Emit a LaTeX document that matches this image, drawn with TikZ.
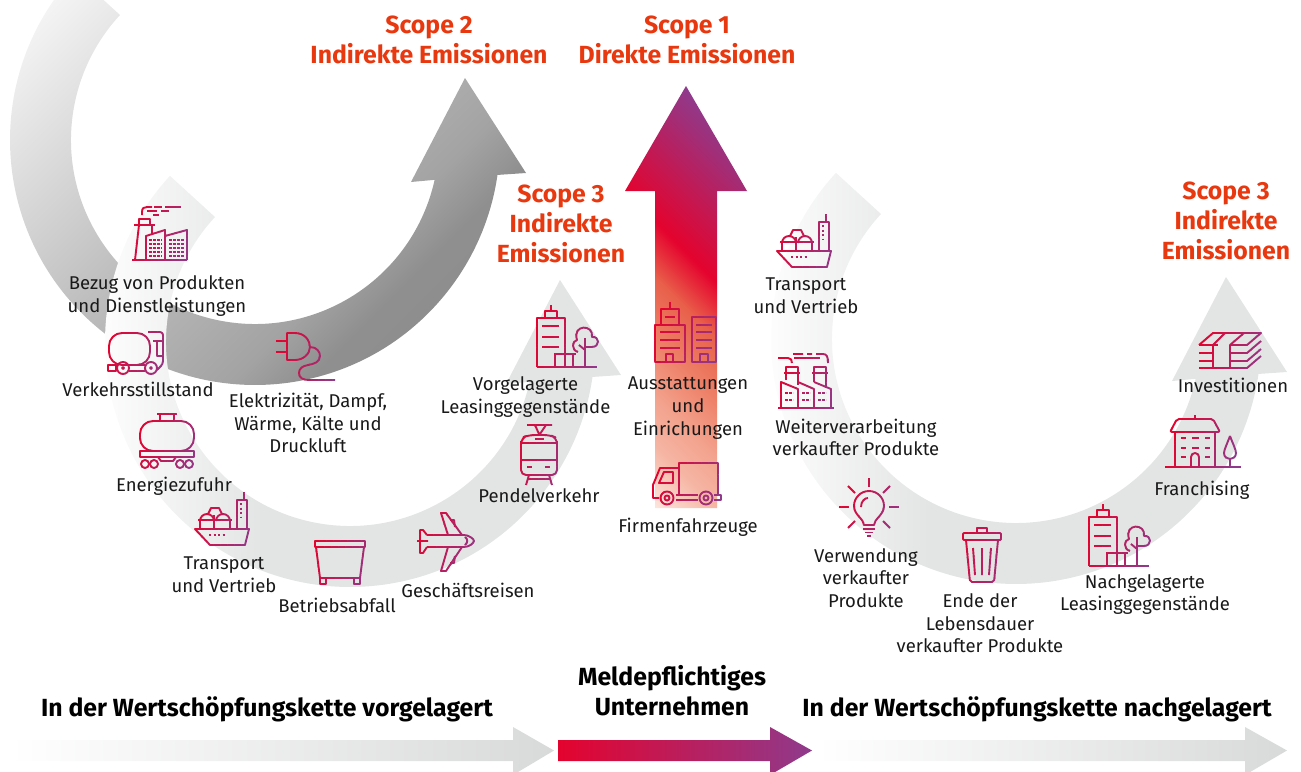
\documentclass[tikz,border=0pt]{standalone}
\usepackage{fontspec}
\setmainfont{Fira Sans}

\definecolor{scopered}{HTML}{E8380F}
\definecolor{iconred}{HTML}{E4032E}
\definecolor{iconpurple}{HTML}{8F3A8C}
\definecolor{ringgray}{HTML}{E3E4E4}
\definecolor{bargray}{HTML}{D8D9D9}
\definecolor{salmona}{HTML}{E8604A}
\definecolor{salmonb}{HTML}{EE8068}
\definecolor{salmonc}{HTML}{F3A48F}
\definecolor{salmond}{HTML}{FDE5DD}

\pgfdeclareverticalshading{darkring}{100bp}{color(0bp)=(white); color(26bp)=(white); color(31bp)=(black!6); color(47bp)=(black!26); color(58bp)=(black!36); color(62bp)=(black!44); color(100bp)=(black!47)}
\pgfdeclareverticalshading{scopeone}{100bp}{color(0bp)=(salmond); color(33bp)=(salmond); color(37.5bp)=(salmonc!75!salmond); color(40.7bp)=(salmonc); color(45bp)=(salmonb); color(49.4bp)=(salmona); color(53.4bp)=(iconred); color(65bp)=(iconpurple); color(100bp)=(iconpurple)}
\pgfdeclarehorizontalshading{lightring}{100bp}{color(0bp)=(white); color(26bp)=(white); color(42bp)=(ringgray); color(100bp)=(ringgray)}

\tikzset{
    iconline/.style={draw=iconpen,line width=1.9pt,line join=round},
    icondots/.style={draw=iconpen,line width=1.9pt,dash pattern=on 2pt off 2.5pt},
    iconpanes/.style={draw=iconpen,line width=2.8pt,dash pattern=on 2.8pt off 1.2pt},
    ringpath/.style={insert path={
        (222.7:245) arc[start angle=222.7,end angle=8.2,radius=245]
        -- (271,33) -- (210,-62) -- (156,42) -- (12.5:184)
        arc[start angle=12.5,end angle=222.8,radius=184] -- cycle}},
    lightbar/.style={left color=white,middle color=bargray,right color=bargray},
    label/.style={align=center,inner sep=0pt,text=black!90,font=\fontsize{18.5}{22.6}\selectfont},
    scopetitle/.style={align=center,inner sep=0pt,text=scopered,font=\fontsize{24.8}{30}\selectfont\bfseries},
    chaintitle/.style={align=center,inner sep=0pt,text=black,font=\fontsize{24.8}{30}\selectfont\bfseries}
}

% an icon is drawn once per slanted slice, each slice in its own colour
\newcommand{\placeicon}[3]{%
\begin{scope}[shift={(#2,#3)}]
\foreach \slice in {-49,-42,...,49} {
\pgfmathtruncatemacro{\mix}{min(100,max(0,(\slice+35)/70*100))}
\colorlet{iconpen}{iconpurple!\mix!iconred}
\begin{scope}
\clip (\slice-14,42) -- (\slice+14,-42) -- (\slice+21.4,-42) -- (\slice-6.6,42) -- cycle;
#1
\end{scope}}
\end{scope}}

\newcommand{\iconfactory}{
\draw[iconline] (-28,27) -- (27,27);
\draw[iconline] (-25,27) -- (-21,-8) (-8,-8) -- (-8,1);
\draw[iconline] (-26,-8) -- (-5,-8) (-21,-8) -- (-21,-14) -- (-10,-14) -- (-10,-8);
\draw[iconline] (-14,27) -- (-14,3) -- (5,-3) -- (5,27) (5,3) -- (27,-3) -- (27,27);
\foreach \y in {7,11,15,19,23} {\draw[iconpanes] (-11,\y) -- (2,\y) (9,\y) -- (24,\y);}
\draw[iconline] (-18,-18) -- (-18,-21) .. controls (-18,-25) and (-16,-26) .. (-13,-26) -- (-8,-26);
\draw[iconline] (-6,-26) -- (2,-26) (5,-26) -- (21,-26) (-13,-22) -- (-3,-22) (1,-22) -- (9,-22) (-7,-18) -- (-1,-18);
}
\newcommand{\icontruck}{
\draw[iconline,rounded corners=13pt] (-27,-20) rectangle (14,12);
\draw[iconline,rounded corners=3pt] (12,-21) -- (27,-21) -- (27,11) -- (21,17);
\draw[iconline] (17,-12) -- (27,-12) (21,-12) -- (21,3) -- (27,3);
\draw[iconline] (-28,12) rectangle (-20,18) (-7,12) -- (9,12) (-7,18) -- (9,18);
\draw[iconline] (-13,15) circle (6) (15,15) circle (6);
\draw[iconline] (-13,15) circle (1) (15,15) circle (1);
}
\newcommand{\iconplug}{
\draw[iconline] (-29,-15) -- (-18,-15) (-29,-4) -- (-18,-4);
\draw[iconline] (-18,-23) -- (-10,-23) .. controls (0,-23) and (5,-15) .. (5,-9) .. controls (5,-2) and (-2,4) .. (-10,4) -- (-18,4) -- cycle;
\draw[iconline] (5,-9) .. controls (12,-9) and (15,-4) .. (15,0) .. controls (15,6) and (9,8) .. (3,9) .. controls (-3,10) and (-6,13) .. (-6,17) .. controls (-6,22) and (-2,24) .. (4,24) -- (30,24);
}
\newcommand{\icontower}{
\draw[iconline] (-31,31) -- (29,31) (-31,31) -- (-31,-18) -- (-3,-18) -- (-3,18);
\draw[iconline] (-23,-18) -- (-23,-25) -- (-11,-25) -- (-11,-18) (-17,-25) -- (-17,-31);
\draw[iconline] (-26,-10) -- (-9,-10) (-26,1) -- (-9,1) (-26,11) -- (-9,11);
\draw[iconline] (-14,18) -- (8,18) (-13,18) -- (-13,31) (-3,18) -- (-3,31) (5,18) -- (5,31);
\draw[iconline] (17,31) -- (17,2) (17,14) -- (11,9);
\draw[iconline] (10,16) .. controls (3,14) and (4,5) .. (9,4) .. controls (4,-12) and (26,-12) .. (24,1) .. controls (32,0) and (32,11) .. (24,11) -- (18,11);
}
\newcommand{\iconwagon}{
\draw[iconline] (-10,-27) -- (10,-27) (-7,-27) -- (-7,-20) (7,-27) -- (7,-20);
\draw[iconline,rounded corners=13pt] (-27,-20) rectangle (27,10);
\draw[iconline] (-27,10) rectangle (27,16);
\draw[iconline] (-9,16) -- (-6,20) -- (6,20) -- (9,16);
\foreach \x in {-22,-13,13,22} {\draw[iconline] (\x,23) circle (4);}
}
\newcommand{\iconship}{
\draw[iconline] (-27,11) -- (27,11) -- (23,27) -- (-12,27) -- cycle;
\draw[icondots] (-13,17) -- (4,17);
\draw[iconline] (15,11) -- (15,-18) -- (25,-18) -- (25,11) (22,-18) -- (22,-26);
\draw[icondots] (19,-15) -- (19,-1);
\draw[iconline] (-24,2) -- (10,2) (-22,11) -- (-22,3) (-8,11) -- (-8,-3) (8,11) -- (8,3);
\draw[iconline] (-22,3) arc[start angle=180,end angle=360,radius=7] (-6,3) arc[start angle=180,end angle=360,radius=7];
\draw[iconline] (-14,-4) -- (-11,-10) -- (-3,-10) -- (0,-4);
}
\newcommand{\iconbin}{
\draw[iconline] (-25,-21) rectangle (25,-15);
\draw[iconline] (-24,-15) -- (-20,16) -- (20,16) -- (24,-15);
\draw[iconline] (-20,16) -- (-20,22) -- (-14,22) -- (-14,16) (20,16) -- (20,22) -- (14,22) -- (14,16);
}
\newcommand{\iconplane}{
\draw[iconline] (-18,-6) -- (19,-6) .. controls (24,-6) and (29,-2) .. (29,0) .. controls (29,2) and (24,6) .. (19,6) -- (-18,6);
\draw[iconline] (-18,-6) -- (-22,-11) -- (-25,-11) -- (-25,12) -- (-22,12) -- (-18,6) (-28,0) -- (-17,0);
\draw[iconline] (3,-6) -- (-4,-28) -- (1,-28) -- (17,-6) (3,6) -- (-4,30) -- (1,30) -- (17,6);
\draw[iconline] (5,-21) -- (9,-21) -- (10,-14) (5,22) -- (9,22) -- (10,15);
\draw[iconline] (20,-4) .. controls (23,-2) and (23,2) .. (20,4);
}
\newcommand{\icontram}{
\draw[iconline] (-12,-30) -- (13,-30) (-4,-30) -- (0,-21) (7,-30) -- (1,-21);
\draw[iconline,rounded corners=6pt] (-18,-12) -- (-18,-17) -- (-10,-20) -- (11,-20) -- (18,-17) -- (18,-12);
\draw[iconline,rounded corners=5pt] (-18,-14) -- (-18,20) -- (18,20) -- (18,-14);
\draw[iconline] (-18,-12) -- (18,-12) (-18,5) -- (18,5) (-4,-16) -- (5,-16) (-12,12) -- (-7,12) (6,12) -- (11,12);
\draw[iconline] (-10,20) -- (-13,30) (10,20) -- (13,30) (-12,24) -- (12,24);
}
\newcommand{\iconoffice}{
\draw[iconline] (-30,-7) rectangle (0,30) (-24,-7) -- (-24,-23) -- (-6,-23) -- (-6,-7) (-15,-23) -- (-15,-30);
\draw[iconline] (-20,-15) -- (-10,-15) (-25,0) -- (-5,0) (-25,8) -- (-5,8) (-25,16) -- (-5,16);
\draw[iconline] (-19,30) -- (-19,22) -- (-12,22) -- (-12,30);
\draw[iconline] (7,-15) rectangle (31,30);
\draw[iconline] (11,-7) -- (27,-7) (11,0) -- (27,0) (11,8) -- (27,8) (11,16) -- (27,16);
\draw[iconline] (15,30) -- (15,22) -- (23,22) -- (23,30);
}
\newcommand{\iconlorry}{
\draw[iconline] (-8,11) -- (-8,-21) -- (31,-21) -- (31,11);
\draw[iconline] (-8,-16) -- (-27,-16) -- (-34,1) -- (-34,14) -- (-28,14);
\draw[iconline] (-14,-12) -- (-23,-12) -- (-28,-1) -- (-14,-1) -- cycle;
\draw[iconline] (-11,11) -- (11,11) (-11,16) -- (11,16) (27,11) -- (34,11) -- (34,16) -- (27,16);
\draw[iconline] (-20,14) circle (6.5) (-20,14) circle (2.5) (19,14) circle (6.5) (19,14) circle (2.5);
}
\newcommand{\iconplant}{
\draw[iconline] (-28,28) -- (28,28);
\draw[iconline] (-25,28) -- (-25,2) -- (-8,9) -- (-8,28) (-8,2) -- (8,9) -- (8,28) (8,2) -- (25,9) -- (25,28);
\draw[iconline] (-20,0) -- (-20,-13) -- (-8,-13) -- (-8,5) (-22,-7) -- (-6,-7);
\draw[iconline] (8,2) -- (8,-13) -- (20,-13) -- (20,8) (6,-7) -- (22,-7);
\foreach \x in {-21,-4,12} {
\draw[iconpanes] (\x,13) -- (\x+8,13) (\x,20) -- (\x+8,20);}
\draw[iconline] (-28,-22) -- (-18,-22) .. controls (-15,-22) and (-14,-20) .. (-14,-17);
\draw[iconline] (-13,-26) -- (-3,-26) (1,-26) -- (6,-26) (10,-26) -- (17,-26) .. controls (21,-26) and (22,-23) .. (22,-17);
\draw[iconline] (-12,-22) -- (14,-22);
}
\newcommand{\iconbulb}{
\draw[iconline] (0,-29) -- (0,-20) (-30,0) -- (-20,0) (20,0) -- (30,0);
\draw[iconline] (-21,-21) -- (-14,-14) (21,-21) -- (14,-14) (-21,21) -- (-14,14) (21,21) -- (14,14);
\draw[iconline] (-5,18) .. controls (-5,12) and (-15,8) .. (-15,-1) arc[start angle=180,end angle=360,radius=15] .. controls (15,8) and (5,12) .. (5,18) -- cycle;
\draw[iconline] (-8,0) .. controls (-8,-6) and (-4,-9) .. (-1,-9);
\draw[iconline] (-6,22) -- (6,22) (-4,25.5) -- (4,25.5) (-2,29) -- (2,29);
}
\newcommand{\icontrash}{
\draw[iconline,rounded corners=1pt] (-19,-21) rectangle (19,-14);
\draw[iconline] (-5,-21) -- (-5,-26) -- (5,-26) -- (5,-21);
\draw[iconline,rounded corners=2pt] (-16,-14) -- (-12,28) -- (12,28) -- (16,-14);
\draw[iconline] (-9,-6) -- (-7,21) (0,-6) -- (0,21) (9,-6) -- (7,21);
}
\newcommand{\iconhouse}{
\draw[iconline] (-38,25) -- (38,25);
\draw[iconline,rounded corners=2pt] (-33,-10) -- (-26,-23) -- (10,-23) -- (17,-10) -- cycle;
\draw[iconline] (-28,-10) -- (-28,25) (12,-10) -- (12,25) (-8,-23) -- (-8,-27);
\draw[iconline] (-22,-4) -- (-17,-4) (-11,-4) -- (-4,-4) (2,-4) -- (7,-4) (-22,6) -- (-17,6) (-11,6) -- (-4,6) (2,6) -- (7,6) (-22,15) -- (-17,15) (2,15) -- (7,15);
\draw[iconline] (-12,25) -- (-12,15) arc[start angle=180,end angle=360,radius=4] -- (-4,25);
\draw[iconline] (27,-6) .. controls (24,2) and (21,8) .. (21,11) .. controls (21,19) and (33,19) .. (33,11) .. controls (33,8) and (30,2) .. (27,-6) (27,17) -- (27,25);
}
\newcommand{\iconstack}{
\draw[iconline] (-31,-6) -- (-17,-18) -- (-5,-18) -- (-17,-6) (0,-6) -- (14,-18) -- (31,-18) -- (17,-6) -- cycle;
\draw[iconline] (-31,-6) -- (-12,-6) (-17,-6) -- (-17,17) (0,-6) -- (0,17);
\draw[iconline] (-17,-18) -- (14,-18);
\foreach \y in {2,10,17} {
\draw[iconline] (-31,\y) -- (-17,\y) (0,\y) -- (17,\y) -- (31,\y-12);}
\draw[iconline] (-17,17) -- (0,17);
}

\begin{document}
\begin{tikzpicture}[x=1pt,y=-1pt]
\useasboundingbox (0,0) rectangle (1301,771);
\clip (0,0) rectangle (1301,771);

% curved arrows
\begin{scope}[shift={(255,140)}]
\clip[ringpath];
\shade[shading=darkring,shading angle=-135] (-350,-290) rectangle (350,410);
\end{scope}
\shade[shading=lightring,shift={(350,342)},ringpath];
\shade[shading=lightring,shift={(1016,339)},ringpath];

% straight arrow of the company
\begin{scope}
\clip (686,86) -- (747,191) -- (717,191) -- (717,508) -- (655,508) -- (655,191) -- (625,191) -- cycle;
\shade[shading=scopeone,shading angle=-45] (436,50) rectangle (936,550);
\end{scope}

% arrows along the bottom
\shade[lightbar] (10,740) -- (513,740) -- (513,727) -- (554,750.5) -- (513,775) -- (513,761) -- (10,761) -- cycle;
\shade[left color=iconred,right color=iconpurple] (558,740) -- (770,740) -- (770,727) -- (812,750.5) -- (770,775) -- (770,761) -- (558,761) -- cycle;
\shade[lightbar] (817,740) -- (1245,740) -- (1245,727) -- (1287,750.5) -- (1245,775) -- (1245,761) -- (817,761) -- cycle;

% icons
\placeicon{\iconfactory}{160}{233}
\placeicon{\icontruck}{136}{353}
\placeicon{\iconplug}{305}{356}
\placeicon{\icontower}{568}{336}
\placeicon{\iconwagon}{167}{441}
\placeicon{\iconship}{222}{518}
\placeicon{\iconbin}{340}{562}
\placeicon{\iconplane}{445}{541}
\placeicon{\icontram}{539}{455}
\placeicon{\iconoffice}{685}{332}
\placeicon{\iconlorry}{687}{484}
\placeicon{\iconship}{804}{240}
\placeicon{\iconplant}{806}{380}
\placeicon{\iconbulb}{869}{507}
\placeicon{\icontrash}{982}{554}
\placeicon{\icontower}{1120}{535}
\placeicon{\iconhouse}{1203}{442}
\placeicon{\iconstack}{1230}{351}

% titles
\node[scopetitle] (scopetwo) at (429,39.5) {Scope 2\\Indirekte Emissionen};
\node[scopetitle] (scopeone) at (687,39.5) {Scope 1\\Direkte Emissionen};
\node[scopetitle] (scopeup) at (561,223.5) {Scope 3\\Indirekte\\Emissionen};
\node[scopetitle] (scopedown) at (1226,220.5) {Scope 3\\Indirekte\\Emissionen};
\node[chaintitle] (chainup) at (267,709) {In der Wertschöpfungskette vorgelagert};
\node[chaintitle] (chaincompany) at (672,691) {Meldepflichtiges\\Unternehmen};
\node[chaintitle] (chaindown) at (1037,709) {In der Wertschöpfungskette nachgelagert};

% labels
\node[label] (goods) at (157,296) {Bezug von Produkten\\und Dienstleistungen};
\node[label] (traffic) at (138,389) {Verkehrsstillstand};
\node[label] (power) at (308,423) {Elektrizität, Dampf,\\Wärme, Kälte und\\Druckluft};
\node[label] (energy) at (174,486) {Energiezufuhr};
\node[label] (transportup) at (224,574.5) {Transport\\und Vertrieb};
\node[label] (waste) at (337,605) {Betriebsabfall};
\node[label] (travel) at (468,590) {Geschäftsreisen};
\node[label] (commute) at (539,496) {Pendelverkehr};
\node[label] (leasingup) at (525.5,397) {Vorgelagerte\\Leasinggegenstände};
\node[label] (equipment) at (688,408) {Ausstattungen\\und\\Einrichungen};
\node[label] (fleet) at (688,527) {Firmenfahrzeuge};
\node[label] (transportdown) at (806,295.5) {Transport\\und Vertrieb};
\node[label] (processing) at (856,437.5) {Weiterverarbeitung\\verkaufter Produkte};
\node[label] (use) at (866,578) {Verwendung\\verkaufter\\Produkte};
\node[label] (endoflife) at (980,623.5) {Ende der\\Lebensdauer\\verkaufter Produkte};
\node[label] (leasingdown) at (1145,594.5) {Nachgelagerte\\Leasinggegenstände};
\node[label] (franchising) at (1202,490) {Franchising};
\node[label] (invest) at (1233,385) {Investitionen};
\end{tikzpicture}
\end{document}
